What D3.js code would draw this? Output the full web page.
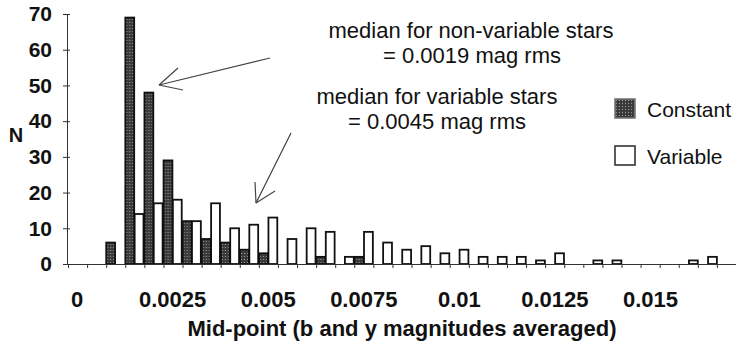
<!DOCTYPE html>
<html>
<head>
<meta charset="utf-8">
<script src="https://cdn.jsdelivr.net/npm/d3@7"></script>
<style>
  body { margin: 0; background: #fff; }
  text { font-family: "Liberation Sans", Arial, sans-serif; fill: #111; }
</style>
</head>
<body>
<div id="chart-area"></div>
<script>
// histogram bins, 0.0005 mag wide, counts
var binWidth = 0.0005;
var bins = d3.range(35);
var constantN = [0, 0, 6, 69, 48, 29, 12, 7, 6, 4, 3, 0, 0, 2, 0, 2, 0, 0, 0, 0,
                 0, 0, 0, 0, 0, 0, 0, 0, 0, 0, 0, 0, 0, 0, 0];
var variableN = [0, 0, 0, 14, 17, 18, 12, 17, 10, 11, 13, 7, 10, 9, 2, 9, 6, 4, 5, 3,
                 4, 2, 2, 2, 1, 3, 0, 1, 1, 0, 0, 0, 1, 2, 0];
var series = ["Constant", "Variable"];
var xLabels = [0, 0.0025, 0.005, 0.0075, 0.01, 0.0125, 0.015];
var yTicks = [0, 10, 20, 30, 40, 50, 60, 70];

var width = 736, height = 346;

var svg = d3.select("#chart-area")
    .append("svg")
        .attr("width", width)
        .attr("height", height);

// stippled dark fill for the constant stars
var pat = svg.append("defs").append("pattern")
    .attr("id", "stipple")
    .attr("width", 3).attr("height", 3)
    .attr("patternUnits", "userSpaceOnUse");
pat.append("rect").attr("width", 3).attr("height", 3).attr("fill", "#3b3b3b");
pat.append("rect").attr("x", 1).attr("y", 1).attr("width", 1).attr("height", 1).attr("fill", "#9a9a9a");

var y = d3.scaleLinear()
    .domain([0, 70])
    .range([264, 14]);

var x0 = d3.scaleBand()
    .domain(bins)
    .range([68, 736])
    .paddingInner(0.05)
    .paddingOuter(0.0);

var x1 = d3.scaleBand()
    .domain(series)
    .range([0, x0.bandwidth()])
    .paddingInner(0.05);

// tick positions along the bin edges
var xEdge = d3.scaleLinear()
    .domain([0, bins.length])
    .range([68, 736]);

var data = bins.map(function(b, i) {
    return { bin: b, Constant: constantN[i], Variable: variableN[i] };
});

var groups = svg.selectAll("g.bin")
        .data(data)
    .enter()
        .append("g")
        .attr("class", "bin")
        .attr("transform", function(d) { return "translate(" + x0(d.bin) + ",0)"; });

groups.selectAll("rect")
        .data(function(d) {
            return series.map(function(s) { return { key: s, value: d[s] }; })
                .filter(function(e) { return e.value > 0; });
        })
    .enter()
        .append("rect")
        .attr("x", function(d) { return x1(d.key); })
        .attr("y", function(d) { return y(d.value); })
        .attr("width", x1.bandwidth())
        .attr("height", function(d) { return y(0) - y(d.value); })
        .attr("fill", function(d) { return d.key == "Constant" ? "url(#stipple)" : "#fff"; })
        .attr("stroke", "#111")
        .attr("stroke-width", 1.8);

// y axis
var yAxis = svg.append("g")
    .attr("transform", "translate(67,0)")
    .call(d3.axisLeft(y).tickValues(yTicks).tickSize(4).tickPadding(11));
yAxis.select(".domain").attr("stroke", "#333");
yAxis.selectAll(".tick line").attr("x1", 3).attr("stroke", "#333");
yAxis.selectAll(".tick text")
    .style("font-family", "'Liberation Sans', Arial, sans-serif")
    .style("font-weight", "bold")
    .style("font-size", "21px")
    .attr("fill", "#111");

// x axis: small ticks at bin edges
var xAxis = svg.append("g")
    .attr("transform", "translate(0,264)")
    .call(d3.axisBottom(xEdge).tickValues(d3.range(bins.length)).tickSize(4).tickFormat(""));
xAxis.select(".domain").attr("stroke", "#333");
xAxis.selectAll(".tick line").attr("stroke", "#333");

// category labels, every fifth bin
svg.append("g")
    .selectAll("text")
        .data(xLabels)
    .enter()
        .append("text")
        .attr("x", function(d) { return x0(Math.round(d / binWidth)) + x0.bandwidth() / 2; })
        .attr("y", 307)
        .attr("text-anchor", "middle")
        .style("font-weight", "bold")
        .style("font-size", "22px")
        .text(function(d) { return String(d); });

// axis titles
svg.append("text")
    .attr("x", (68 + 736) / 2)
    .attr("y", 336)
    .attr("text-anchor", "middle")
    .style("font-weight", "bold")
    .style("font-size", "22px")
    .text("Mid-point (b and y magnitudes averaged)");

svg.append("text")
    .attr("x", 16)
    .attr("y", 142)
    .attr("text-anchor", "middle")
    .style("font-weight", "bold")
    .style("font-size", "20px")
    .text("N");

// annotations
var notes = [
    { text: "median for non-variable stars", x: 471, y: 38 },
    { text: "= 0.0019 mag rms", x: 472, y: 63 },
    { text: "median for variable stars", x: 437, y: 104 },
    { text: "= 0.0045 mag rms", x: 437, y: 129 }
];
svg.selectAll("text.note")
        .data(notes)
    .enter()
        .append("text")
        .attr("class", "note")
        .attr("x", function(d) { return d.x; })
        .attr("y", function(d) { return d.y; })
        .attr("text-anchor", "middle")
        .style("font-size", "22px")
        .text(function(d) { return d.text; });

// arrows pointing at the two medians
var arrows = [
    { from: [270, 58], tip: [159, 85], arms: [[178, 68], [183, 90]] },
    { from: [291, 133], tip: [256, 203], arms: [[255, 182], [275, 191]] }
];
arrows.forEach(function(a) {
    svg.append("line")
        .attr("x1", a.from[0]).attr("y1", a.from[1])
        .attr("x2", a.tip[0]).attr("y2", a.tip[1])
        .attr("stroke", "#444").attr("stroke-width", 1.2);
    a.arms.forEach(function(p) {
        svg.append("line")
            .attr("x1", a.tip[0]).attr("y1", a.tip[1])
            .attr("x2", p[0]).attr("y2", p[1])
            .attr("stroke", "#444").attr("stroke-width", 1.2);
    });
});

// legend
var legend = svg.selectAll("g.legend")
        .data(series)
    .enter()
        .append("g")
        .attr("class", "legend")
        .attr("transform", function(d, i) { return "translate(615," + (99 + i * 47) + ")"; });
legend.append("rect")
    .attr("width", 20)
    .attr("height", 19)
    .attr("fill", function(d) { return d == "Constant" ? "url(#stipple)" : "#fff"; })
    .attr("stroke", function(d) { return d == "Constant" ? "#777" : "#333"; })
    .attr("stroke-width", 1.6);
legend.append("text")
    .attr("x", 32)
    .attr("y", 18)
    .style("font-size", "21px")
    .text(function(d) { return d; });
</script>
</body>
</html>
